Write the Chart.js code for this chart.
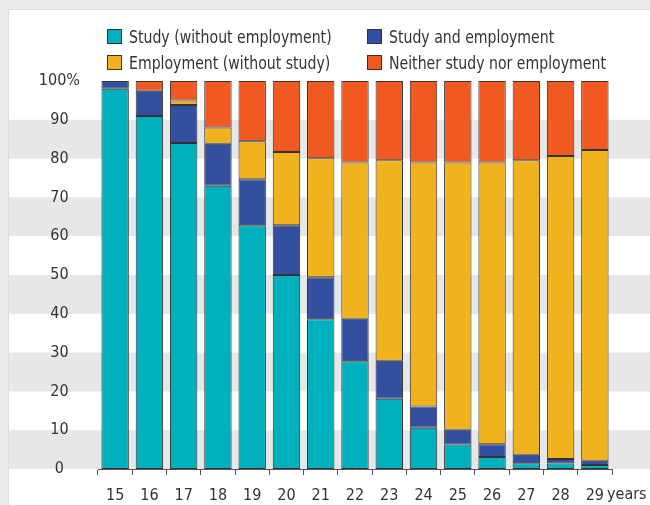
<!DOCTYPE html>
<html>
<head>
<meta charset="utf-8">
<script src="https://cdn.jsdelivr.net/npm/chart.js@4.4.1/dist/chart.umd.min.js"></script>
<style>
  html, body { margin: 0; padding: 0; background: #ebebeb; }
  #wrap { position: relative; width: 650px; height: 505px; }
  #chart { position: absolute; left: 0; top: 0; }
  #legend {
    position: absolute; left: 107px; top: 26px;
    display: grid; grid-template-columns: 260px 260px; row-gap: 6px;
    font-family: 'DejaVu Sans Condensed', 'Roboto', sans-serif;
    font-size: 18px; color: #333;
  }
  #legend .item { display: flex; align-items: center; height: 20px; white-space: nowrap; }
  #legend .box { flex: 0 0 auto; width: 13px; height: 13px; border: 1px solid #333; margin-right: 7px; }
  #legend .txt { display: inline-block; transform: scaleX(0.87); transform-origin: left center; }
</style>
</head>
<body>
<div id="wrap">
  <canvas id="chart" width="650" height="505"></canvas>
  <div id="legend"></div>
</div>
<script>
// edades
const ages = ['15', '16', '17', '18', '19', '20', '21', '22', '23', '24', '25', '26', '27', '28', '29'];

// porcentajes por grupo
const studyOnly = [98.0, 91.0, 84.0, 73.0, 62.8, 50.0, 38.6, 27.8, 18.1, 10.6, 6.3, 3.1, 1.5, 1.4, 1.0];
const studyAndWork = [2.0, 6.5, 9.8, 10.8, 11.9, 12.8, 10.8, 10.9, 9.8, 5.5, 3.8, 3.3, 2.2, 1.2, 1.1];
const workOnly = [0.0, 0.0, 1.2, 4.2, 9.8, 18.9, 30.7, 40.3, 51.7, 62.9, 68.9, 72.6, 75.9, 78.1, 80.1];
const neither = [0.0, 2.5, 5.0, 12.0, 15.5, 18.3, 19.9, 21.0, 20.4, 21.0, 21.0, 21.0, 20.4, 19.3, 17.8];

const seriesNames = ['Study (without employment)', 'Study and employment', 'Employment (without study)', 'Neither study nor employment'];
const yTicks = [0, 10, 20, 30, 40, 50, 60, 70, 80, 90, 100];

const colors = ['#00b0bd', '#3350a0', '#f0b31e', '#f05a22'];
const fontFamily = "'DejaVu Sans Condensed', 'Roboto', sans-serif";
const textColor = '#333';

// fondo, marco y bandas grises
const bandsPlugin = {
    id: 'bands',
    beforeDraw(chart) {
        const ctx = chart.ctx;
        const y = chart.scales.y;
        ctx.save();
        ctx.fillStyle = '#ebebeb';
        ctx.fillRect(0, 0, chart.width, chart.height);
        ctx.fillStyle = '#dcdcdc';
        ctx.fillRect(8, 9, 1, chart.height);
        ctx.fillRect(8, 9, chart.width, 1);
        ctx.fillStyle = '#ffffff';
        ctx.fillRect(9, 10, chart.width, chart.height);
        ctx.fillStyle = '#e6e7e8';
        for (let i = 0; i < yTicks.length - 1; i += 2) {
            const top = y.getPixelForValue(yTicks[i + 1]);
            const bottom = y.getPixelForValue(yTicks[i]);
            ctx.fillRect(9, top, chart.width, bottom - top);
        }
        ctx.restore();
    }
};

// texto "years" al lado del ultimo tick
const yearsPlugin = {
    id: 'years',
    afterDraw(chart) {
        const ctx = chart.ctx;
        const x = chart.scales.x;
        ctx.save();
        ctx.font = '16px ' + fontFamily;
        ctx.fillStyle = textColor;
        ctx.textBaseline = 'middle';
        ctx.textAlign = 'left';
        ctx.fillText('years', x.right - 5, 495);
        ctx.restore();
    }
};

const seriesData = [studyOnly, studyAndWork, workOnly, neither];

const datasets = seriesNames.map((name, i) => ({
    label: name,
    data: seriesData[i],
    backgroundColor: colors[i],
    borderColor: 'rgba(30,30,30,0.9)',
    borderWidth: 1,
    borderSkipped: false,
    barPercentage: 0.8,
    categoryPercentage: 1.0
}));

const chart = new Chart(document.getElementById('chart'), {
    type: 'bar',
    data: { labels: ages, datasets: datasets },
    plugins: [bandsPlugin, yearsPlugin],
    options: {
        responsive: false,
        animation: false,
        layout: { padding: { top: 81, right: 38, left: 0, bottom: 0 } },
        plugins: { legend: { display: false }, tooltip: { enabled: false } },
        scales: {
            x: {
                stacked: true,
                grid: { display: true, drawOnChartArea: false, offset: true, tickLength: 6, color: '#555', lineWidth: 1 },
                border: { display: true, color: '#555', width: 1 },
                ticks: { color: textColor, font: { family: fontFamily, size: 16 }, padding: 11, maxRotation: 0 },
                afterFit(scale) { scale.height = 36; }
            },
            y: {
                stacked: true,
                min: 0,
                max: 100,
                afterBuildTicks(scale) { scale.ticks = yTicks.map(v => ({ value: v })); },
                grid: { display: false, drawTicks: false },
                border: { display: false },
                ticks: {
                    color: textColor,
                    font: { family: fontFamily, size: 16 },
                    padding: 18,
                    crossAlign: 'center',
                    callback: v => v === 100 ? '100%' : v
                },
                afterFit(scale) { scale.width = 98; }
            }
        }
    }
});

// leyenda en html, dos columnas
const legendDiv = document.getElementById('legend');
chart.data.datasets.forEach(ds => {
    const item = document.createElement('div');
    item.className = 'item';
    const box = document.createElement('span');
    box.className = 'box';
    box.style.background = ds.backgroundColor;
    const label = document.createElement('span');
    label.className = 'txt';
    label.textContent = ds.label;
    item.appendChild(box);
    item.appendChild(label);
    legendDiv.appendChild(item);
});
</script>
</body>
</html>
